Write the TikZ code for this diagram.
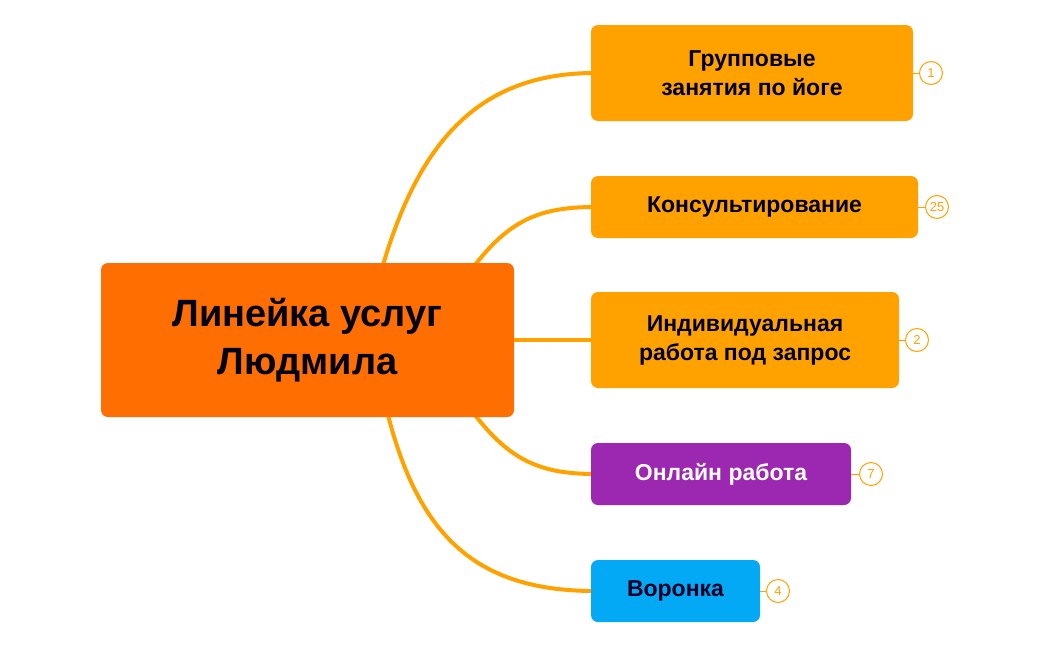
\documentclass[tikz,border=0pt]{standalone}
\usepackage{fontspec}
\setmainfont{Liberation Sans}
\begin{document}
\begin{tikzpicture}[x=1pt,y=-1pt,
  box/.style={rounded corners=7pt,inner sep=0pt,font=\bfseries\fontsize{23}{29}\selectfont,align=center,text=black!85!blue},
  link/.style={draw=orange1,line width=4pt},
  badge/.style={circle,draw=orange1,fill=white,line width=1pt,minimum size=23pt,inner sep=0pt,text=orange1,font=\fontsize{13}{13}\selectfont}]
\definecolor{orange1}{HTML}{FFA200}
\definecolor{root}{HTML}{FF6E00}
\definecolor{purp}{HTML}{9C27B0}
\definecolor{sky}{HTML}{03A9F4}
\path[use as bounding box] (0,0) rectangle (1050,648);
% links
\draw[link] (383,265) .. controls (420,140) and (480,73) .. (595,73);
\draw[link] (475,265) .. controls (510,220) and (540,207) .. (595,207);
\draw[link] (510,340) -- (595,340);
\draw[link] (475,415) .. controls (510,460) and (540,474) .. (595,474);
\draw[link] (388,415) .. controls (420,540) and (480,591) .. (595,591);
% root
\node[box,fill=root,minimum width=413pt,minimum height=154pt,font=\bfseries\fontsize{38}{48}\selectfont,text=black!90!blue] (r) at (307.5,340) {Линейка услуг\\Людмила};
% children
\node[box,fill=orange1,minimum width=322pt,minimum height=96pt] (a) at (752,73) {Групповые\\занятия по йоге};
\node[box,fill=orange1,minimum width=327pt,minimum height=62pt] (b) at (754.5,207) {Консультирование};
\node[box,fill=orange1,minimum width=308pt,minimum height=96pt] (c) at (745,340) {Индивидуальная\\работа под запрос};
\node[box,fill=purp,minimum width=260pt,minimum height=62pt,text=white] (d) at (721,474) {Онлайн работа};
\node[box,fill=sky,minimum width=169pt,minimum height=62pt] (e) at (675.5,591) {Воронка};
% badges
\node[badge] (ba) at (931,73) {1};
\node[badge] (bb) at (937,207) {25};
\node[badge] (bc) at (917,340) {2};
\node[badge] (bd) at (871,474) {7};
\node[badge] (be) at (778,591) {4};
\foreach \n/\m in {a/ba,b/bb,c/bc,d/bd,e/be} \draw[orange1,line width=1pt] (\n.east) -- (\m);
\end{tikzpicture}
\end{document}
